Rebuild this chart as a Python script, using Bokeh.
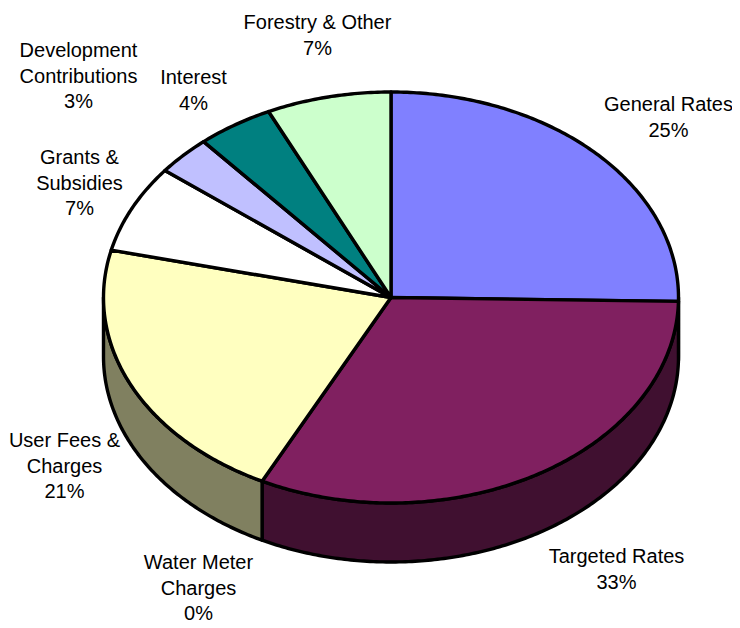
import numpy as np
from bokeh.plotting import figure
from bokeh.models import Range1d, ColumnDataSource
from bokeh.core.properties import value
from bokeh.embed import file_html
from bokeh.resources import INLINE

categories = ["General Rates", "Targeted Rates", "Water Meter\nCharges", "User Fees &\nCharges",
              "Grants &\nSubsidies", "Development\nContributions", "Interest", "Forestry & Other"]
shares = [25.3, 32.1, 0.0, 21.3, 6.9, 3.1, 4.3, 7.0]
percent_labels = ["25%", "33%", "0%", "21%", "7%", "3%", "4%", "7%"]
top_colors = ["#8080FF", "#802060", "#A6CAF0", "#FFFFC0", "#FFFFFF", "#C0C0FF", "#008080", "#CCFFCC"]
side_colors = ["#404080", "#401030", "#536578", "#808060", "#808080", "#606080", "#004040", "#668066"]
label_x = [668, 616, 198, 64, 79, 78, 193, 317]
label_y = [92.5, 544.5, 550.5, 428.5, 145.5, 38.5, 65.5, 10.5]

CX, CY, RX, RY, DEPTH = 390.5, 297.0, 287.5, 205.5, 59.0
LW = 3.4

W, H = 732, 628
p = figure(width=W, height=H, output_backend="svg", toolbar_location=None,
           x_range=Range1d(0, W), y_range=Range1d(H, 0), min_border=0,
           outline_line_color=None, background_fill_color="white")
p.axis.visible = False
p.grid.visible = False

edges = np.cumsum([0.0] + shares) / sum(shares) * 2 * np.pi

def arc(a, b, dy=0.0):
    t = np.linspace(a, b, max(2, int(abs(b - a) * 90)))
    return CX + RX * np.sin(t), CY - RY * np.cos(t) + dy

sx, sy, sc = [], [], []
for a, b, c in zip(edges[:-1], edges[1:], side_colors):
    lo, hi = max(a, np.pi / 2), min(b, 3 * np.pi / 2)
    if hi <= lo:
        continue
    x1, y1 = arc(lo, hi)
    x2, y2 = arc(hi, lo, DEPTH)
    sx.append(np.r_[x1, x2].tolist())
    sy.append(np.r_[y1, y2].tolist())
    sc.append(c)
p.patches(sx, sy, fill_color=sc, line_color="black", line_width=LW, line_join="round")

tx, ty, tc = [], [], []
for a, b, c in zip(edges[:-1], edges[1:], top_colors):
    if b <= a:
        continue
    x1, y1 = arc(a, b)
    tx.append(np.r_[CX, x1].tolist())
    ty.append(np.r_[CY, y1].tolist())
    tc.append(c)
p.patches(tx, ty, fill_color=tc, line_color="black", line_width=LW, line_join="round")

texts = [f"{n}\n{v}" for n, v in zip(categories, percent_labels)]
src = ColumnDataSource(dict(x=label_x, y=label_y, text=texts))
p.text("x", "y", text="text", source=src, text_align="center", text_baseline="top",
       text_font=value("Liberation Sans"), text_font_size="20px", text_color="black",
       text_line_height=1.16)

open("out.html", "w").write(file_html(p, INLINE))
